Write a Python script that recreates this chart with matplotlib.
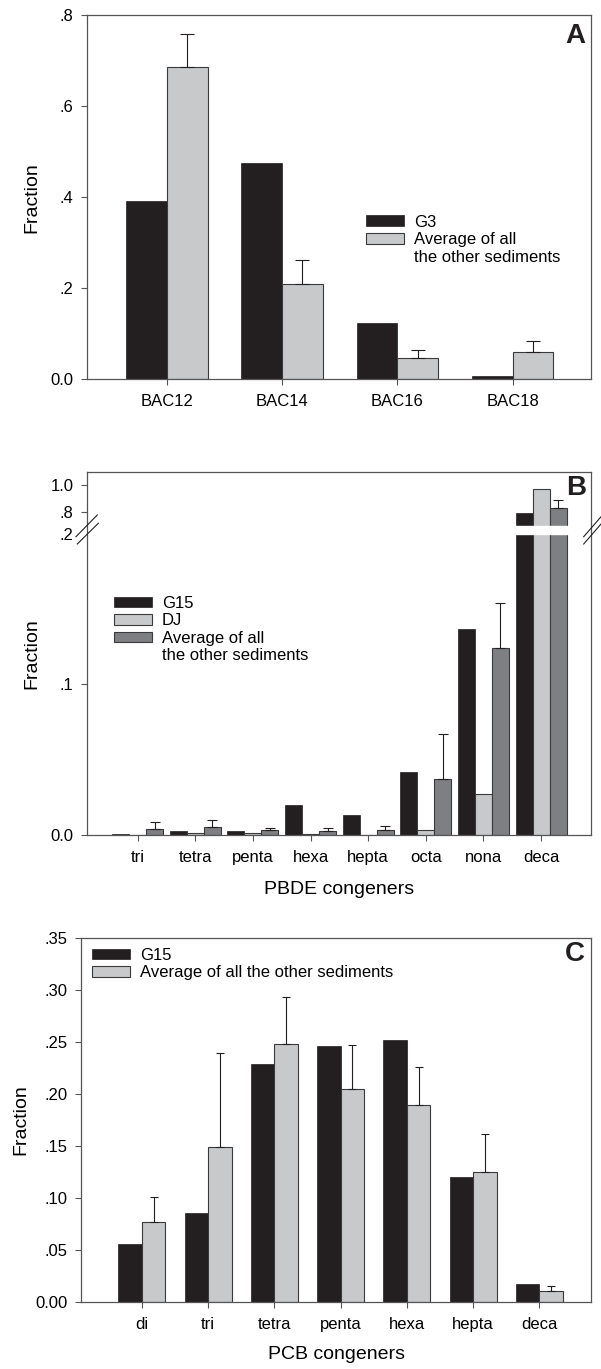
import numpy as np
import matplotlib
matplotlib.use('Agg')
from matplotlib import pyplot as plt
from matplotlib.patches import Patch

plt.rcParams['font.family'] = ['Liberation Sans', 'DejaVu Sans']

BLACK = '#231f20'
LIGHT = '#c8c9cb'
DARK = '#7e7f83'
FRAME = '#555555'
EDGE = '#3a3a3a'

# panel A - BAC homologues
bac_labels = ['BAC12', 'BAC14', 'BAC16', 'BAC18']
bac_g3 = [0.392, 0.476, 0.124, 0.008]
bac_avg = [0.685, 0.210, 0.046, 0.059]
bac_avg_err = [0.073, 0.052, 0.018, 0.025]

# panel B - PBDE congeners
pbde_labels = ['tri', 'tetra', 'penta', 'hexa', 'hepta', 'octa', 'nona', 'deca']
pbde_g15 = [0.0007, 0.0024, 0.0024, 0.0197, 0.0133, 0.042, 0.1365, 0.79]
pbde_dj = [0.0002, 0.0010, 0.0013, 0.0009, 0.0002, 0.0031, 0.0274, 0.968]
pbde_avg = [0.0040, 0.0055, 0.0033, 0.0027, 0.0031, 0.0374, 0.1239, 0.825]
pbde_avg_err = [0.0044, 0.0045, 0.0016, 0.0017, 0.0029, 0.0296, 0.0301, 0.060]

# panel C - PCB congeners
pcb_labels = ['di', 'tri', 'tetra', 'penta', 'hexa', 'hepta', 'deca']
pcb_g15 = [0.0554, 0.0853, 0.2288, 0.2458, 0.2513, 0.1199, 0.017]
pcb_avg = [0.0766, 0.149, 0.248, 0.2045, 0.1888, 0.1244, 0.0103]
pcb_avg_err = [0.0244, 0.0904, 0.0453, 0.042, 0.0372, 0.0368, 0.0051]


def style_axes(ax):
    for s in ax.spines.values():
        s.set_color(FRAME)
        s.set_linewidth(0.9)
    ax.tick_params(axis='both', direction='out', length=4.3, width=0.8,
                   color=FRAME, labelsize=12)
    ax.tick_params(axis='x', pad=6.5)
    ax.tick_params(axis='y', pad=5.5)
    ax.tick_params(top=False, right=False)


def up_errors(ax, x, y, err, capsize):
    # only the upper half of the error bar is shown
    ax.errorbar(x, y, yerr=[np.zeros(len(err)), err], fmt='none',
                ecolor=BLACK, elinewidth=0.8, capsize=capsize, capthick=0.8,
                zorder=1)


def fake_legend(ax, handles, labels, anchor):
    leg = ax.legend(handles, labels, loc='upper left', bbox_to_anchor=anchor,
                    frameon=False, fontsize=12, borderpad=0, borderaxespad=0,
                    handlelength=2.28, handleheight=0.6, handletextpad=0.6,
                    labelspacing=0.15)
    return leg


def letter(ax, txt, x, y):
    ax.text(x, y, txt, transform=ax.transAxes, ha='right', va='top',
            fontsize=20, fontweight='bold', color=BLACK)


fig = plt.figure(figsize=(6.01, 13.69), dpi=100)

blank = Patch(facecolor='none', edgecolor='none')

# ---------------- A
axA = fig.add_axes([0.14476, 0.72294, 0.83860, 0.26611])
x = np.arange(len(bac_labels))
w = 0.353
axA.bar(x, bac_g3, -w, align='edge', color=BLACK, edgecolor=BLACK, linewidth=0.5)
axA.bar(x, bac_avg, w, align='edge', color=LIGHT, edgecolor=EDGE, linewidth=0.8)
up_errors(axA, x + w / 2, bac_avg, bac_avg_err, 4.7)
axA.set_xlim(-0.693, 3.68)
axA.set_ylim(0, 0.8)
axA.set_xticks(x)
axA.set_xticklabels(bac_labels)
axA.set_yticks([0, 0.2, 0.4, 0.6, 0.8])
axA.set_yticklabels(['0.0', '.2', '.4', '.6', '.8'])
axA.set_ylabel('Fraction', fontsize=14)
axA.yaxis.set_label_coords(-0.093, 0.5)
style_axes(axA)
fake_legend(axA,
            [Patch(facecolor=BLACK, edgecolor=BLACK, linewidth=0.5),
             Patch(facecolor=LIGHT, edgecolor=EDGE, linewidth=0.8), blank],
            ['G3', 'Average of all', 'the other sediments'], (0.5536, 0.452))
letter(axA, 'A', 0.988, 0.979)

# ---------------- B (broken y axis)
seg_v = [0.0, 0.2, 0.695, 1.097]
seg_p = [0.0, 301.3, 309.0, 363.3]


def piecewise(v, xs, ys):
    v = np.asarray(v, dtype=float)
    out = np.interp(v, xs, ys)
    lo_slope = (ys[1] - ys[0]) / (xs[1] - xs[0])
    hi_slope = (ys[-1] - ys[-2]) / (xs[-1] - xs[-2])
    out = np.where(v < xs[0], ys[0] + (v - xs[0]) * lo_slope, out)
    out = np.where(v > xs[-1], ys[-1] + (v - xs[-1]) * hi_slope, out)
    return out


def fwd(v):
    return piecewise(v, seg_v, seg_p)


def inv(p):
    return piecewise(p, seg_p, seg_v)


axB = fig.add_axes([0.14476, 0.39007, 0.8386, 0.26538])
axB.set_yscale('function', functions=(fwd, inv))
x = np.arange(len(pbde_labels))
w = 0.295
axB.bar(x - w, pbde_g15, w, color=BLACK, edgecolor=BLACK, linewidth=0.5)
axB.bar(x, pbde_dj, w, color=LIGHT, edgecolor=EDGE, linewidth=0.8)
axB.bar(x + w, pbde_avg, w, color=DARK, edgecolor=EDGE, linewidth=0.8)
up_errors(axB, x + w, pbde_avg, pbde_avg_err, 3.6)
axB.axhspan(seg_v[1], seg_v[2], color='white', zorder=2.2)
axB.set_xlim(-0.88, 7.867)
axB.set_ylim(0, seg_v[-1])
axB.set_xticks(x)
axB.set_xticklabels(pbde_labels)
axB.set_yticks([0, 0.1, 0.2, 0.8, 1.0])
axB.set_yticklabels(['0.0', '.1', '.2', '.8', '1.0'])
axB.set_ylabel('Fraction', fontsize=14)
axB.yaxis.set_label_coords(-0.093, 0.5)
axB.set_xlabel('PBDE congeners', fontsize=14)
axB.xaxis.set_label_coords(0.5, -0.1274)
style_axes(axB)
axB.yaxis.get_major_ticks()[2].tick1line.set_visible(False)
# break marks on both spines
for xs_, ys_ in [((-0.0219, 0.0205), (0.821, 0.881)),
                 ((-0.0193, 0.0225), (0.801, 0.858)),
                 ((0.9855, 1.0199), (0.821, 0.876)),
                 ((0.9855, 1.0199), (0.801, 0.856))]:
    axB.plot(xs_, ys_, transform=axB.transAxes, color=BLACK, lw=0.8,
             clip_on=False, zorder=3)
fake_legend(axB,
            [Patch(facecolor=BLACK, edgecolor=BLACK, linewidth=0.5),
             Patch(facecolor=LIGHT, edgecolor=EDGE, linewidth=0.8),
             Patch(facecolor=DARK, edgecolor=EDGE, linewidth=0.8), blank],
            ['G15', 'DJ', 'Average of all', 'the other sediments'],
            (0.0536, 0.658))
letter(axB, 'B', 0.990, 0.990)

# ---------------- C
axC = fig.add_axes([0.13511, 0.04916, 0.84825, 0.26589])
x = np.arange(len(pcb_labels))
w = 0.355
axC.bar(x, pcb_g15, -w, align='edge', color=BLACK, edgecolor=BLACK, linewidth=0.5)
axC.bar(x, pcb_avg, w, align='edge', color=LIGHT, edgecolor=EDGE, linewidth=0.8)
up_errors(axC, x + w / 2, pcb_avg, pcb_avg_err, 3.0)
axC.set_xlim(-0.916, 6.78)
axC.set_ylim(0, 0.35)
axC.set_xticks(x)
axC.set_xticklabels(pcb_labels)
yt = np.arange(0, 0.351, 0.05)
axC.set_yticks(yt)
axC.set_yticklabels(['0.00'] + [('%.2f' % v)[1:] for v in yt[1:]])
axC.set_ylabel('Fraction', fontsize=14)
axC.yaxis.set_label_coords(-0.102, 0.5)
axC.set_xlabel('PCB congeners', fontsize=14)
axC.xaxis.set_label_coords(0.5, -0.1225)
style_axes(axC)
fake_legend(axC,
            [Patch(facecolor=BLACK, edgecolor=BLACK, linewidth=0.5),
             Patch(facecolor=LIGHT, edgecolor=EDGE, linewidth=0.8)],
            ['G15', 'Average of all the other sediments'], (0.021, 0.972))
letter(axC, 'C', 0.988, 0.990)

fig.savefig('out.png', dpi=100)
